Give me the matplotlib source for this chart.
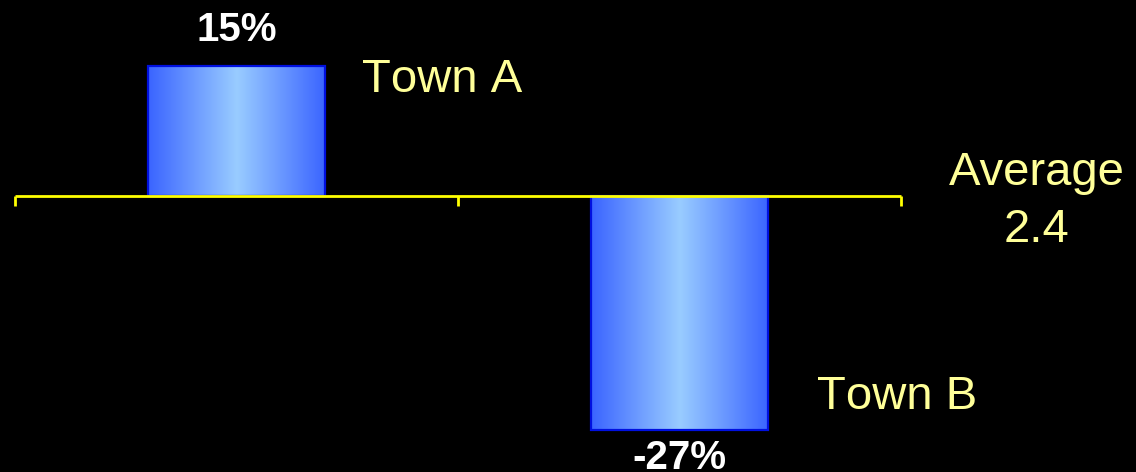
import numpy as np
import matplotlib
matplotlib.use("Agg")
import matplotlib.pyplot as plt
from matplotlib.colors import LinearSegmentedColormap

categories = ["Town A", "Town B"]
values = [15, -27]
value_labels = ["15%", "-27%"]
average_label = ["Average", "2.4"]

plt.rcParams['font.family'] = ['Liberation Sans', 'DejaVu Sans']
plt.rcParams['text.kerning_factor'] = 8

fig = plt.figure(figsize=(11.36, 4.72), dpi=100, facecolor='black')
ax = fig.add_axes([0, 0, 1, 1])
ax.set_facecolor('black')
ax.set_axis_off()

px_x = 443.0
px_y = 8.65
ax.set_xlim(-15 / px_x, 2 + (1136 - 901) / px_x)
ax.set_ylim(-(472 - 196) / px_y, 196 / px_y)

x = np.arange(len(categories)) + 0.5
bars = ax.bar(x, values, width=0.4, color='none', edgecolor='#0010E0',
              linewidth=1.6, zorder=3)

cmap = LinearSegmentedColormap.from_list(
    'grad', ['#3A64FF', '#6A98FF', '#99CCFF', '#6A98FF', '#3A64FF'])
grad = np.linspace(0, 1, 256).reshape(1, -1)
for b in bars:
    bx, by = b.get_x(), b.get_y()
    w, h = b.get_width(), b.get_height()
    im = ax.imshow(grad, cmap=cmap, aspect='auto',
                   extent=[bx, bx + w, by, by + h], zorder=2,
                   interpolation='bicubic')
    im.set_clip_path(b)

# axis line with ticks
ax.plot([0, 2], [0, 0], color='#FFFF00', lw=2, zorder=4, solid_capstyle='butt')
for t in [0, 1, 2]:
    ax.plot([t, t], [0, -10 / px_y], color='#FFFF00', lw=2, zorder=4,
            solid_capstyle='butt')

yellow = '#FFFF99'
# value labels
ax.text(x[0], values[0] + 25.3 / px_y, value_labels[0], ha='center',
        va='baseline', color='white', fontsize=29, fontweight='bold')
ax.text(x[1], values[1] - 39 / px_y, value_labels[1], ha='center',
        va='baseline', color='white', fontsize=29, fontweight='bold')

# category labels
ax.text((362 - 15) / px_x, (196 - 92) / px_y, categories[0], ha='left',
        va='baseline', color=yellow, fontsize=34)
ax.text((817 - 15) / px_x, (196 - 409) / px_y, categories[1], ha='left',
        va='baseline', color=yellow, fontsize=34)

# average label
ax.text((1037 - 15) / px_x, (196 - 185) / px_y, average_label[0], ha='center',
        va='baseline', color=yellow, fontsize=34)
ax.text((1037 - 15) / px_x, (196 - 242) / px_y, average_label[1], ha='center',
        va='baseline', color=yellow, fontsize=34)

fig.savefig('out.png', dpi=100, facecolor='black')
